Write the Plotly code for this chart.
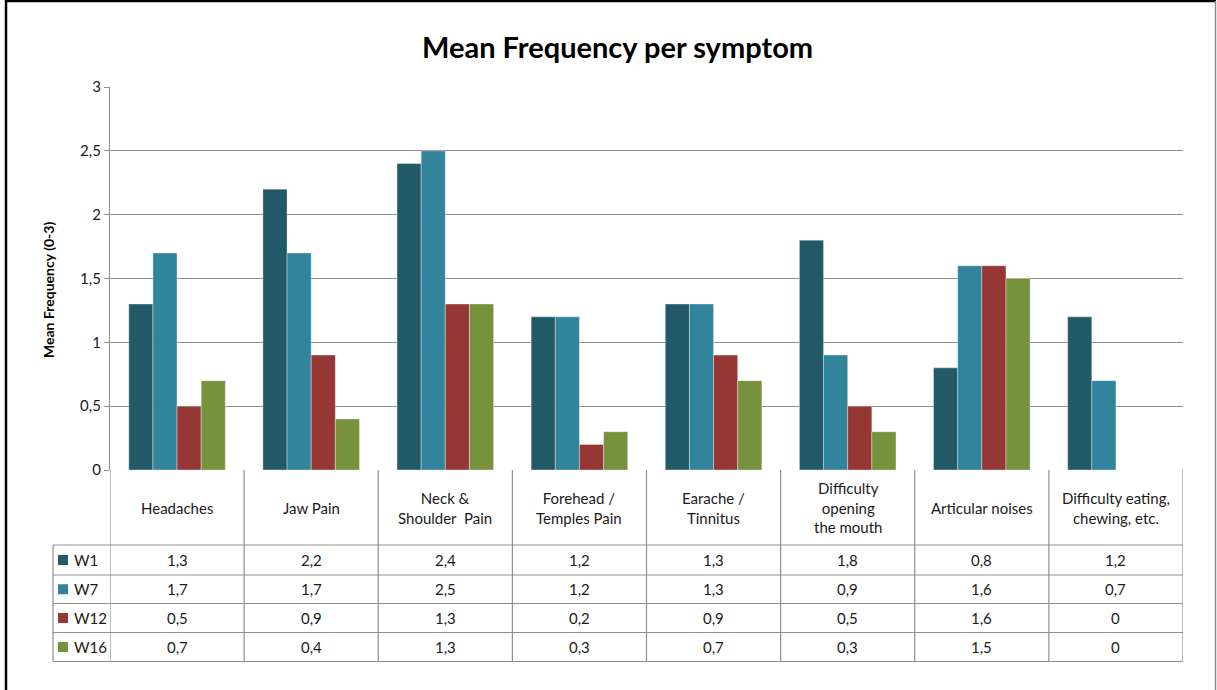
import plotly.graph_objects as go

categories = ["Headaches", "Jaw Pain", "Neck &<br>Shoulder  Pain", "Forehead /<br>Temples Pain",
              "Earache /<br>Tinnitus", "Difficulty<br>opening<br>the mouth", "Articular noises",
              "Difficulty eating,<br>chewing, etc."]
series_names = ["W1", "W7", "W12", "W16"]
w1 = [1.3, 2.2, 2.4, 1.2, 1.3, 1.8, 0.8, 1.2]
w7 = [1.7, 1.7, 2.5, 1.2, 1.3, 0.9, 1.6, 0.7]
w12 = [0.5, 0.9, 1.3, 0.2, 0.9, 0.5, 1.6, 0]
w16 = [0.7, 0.4, 1.3, 0.3, 0.7, 0.3, 1.5, 0]
colors = ["#215967", "#31849B", "#953735", "#76923C"]
yticks = [0, 0.5, 1, 1.5, 2, 2.5, 3]

W, H = 1217, 690
L, R, T, B = 110, 1183, 87, 470
FONT = "Lato"
TXT = "#1a1a1a"

def px_x(p):
    return (p - L) / (R - L)

def px_y(p):
    return (B - p) / (B - T)

xidx = list(range(len(categories)))
fig = go.Figure()
for name, vals, col in zip(series_names, [w1, w7, w12, w16], colors):
    fig.add_trace(go.Bar(x=xidx, y=vals, name=name,
                         marker=dict(color=col, line=dict(width=0.6, color="rgba(255,255,255,0.6)")),
                         showlegend=False))

shapes = []
annotations = []
gray = "#8f8f8f"
row_lines = [545, 575, 603.5, 632.5, 661.5]
leg_left = 53
for i in range(len(categories) + 1):
    shapes.append(dict(type="line", xref="x", yref="paper", x0=i - 0.5, x1=i - 0.5,
                       y0=0, y1=px_y(row_lines[-1]), line=dict(color=gray, width=1.2)))
shapes.append(dict(type="line", xref="paper", yref="paper", x0=px_x(leg_left), x1=px_x(leg_left),
                   y0=px_y(row_lines[0]), y1=px_y(row_lines[-1]), line=dict(color=gray, width=1.2)))
for r in row_lines:
    shapes.append(dict(type="line", xref="paper", yref="paper", x0=px_x(leg_left), x1=1,
                       y0=px_y(r), y1=px_y(r), line=dict(color=gray, width=1.2)))
for i, c in enumerate(categories):
    annotations.append(dict(x=i, y=px_y(507.5), xref="x", yref="paper", text=c, showarrow=False,
                            xanchor="center", yanchor="middle",
                            font=dict(family=FONT, size=15, color=TXT), align="center"))
for r, (name, vals, col) in enumerate(zip(series_names, [w1, w7, w12, w16], colors)):
    ypc = (row_lines[r] + row_lines[r + 1]) / 2
    yc = px_y(ypc)
    for i, v in enumerate(vals):
        txt = ("%g" % v).replace(".", ",")
        annotations.append(dict(x=i, y=yc, xref="x", yref="paper", text=txt, showarrow=False,
                                xanchor="center", yanchor="middle",
                                font=dict(family=FONT, size=15, color=TXT)))
    shapes.append(dict(type="rect", xref="paper", yref="paper", x0=px_x(58), x1=px_x(68),
                       y0=px_y(ypc + 5), y1=px_y(ypc - 5), fillcolor=col, line=dict(width=0)))
    annotations.append(dict(x=px_x(72), y=yc, xref="paper", yref="paper", text=name, showarrow=False,
                            xanchor="left", yanchor="middle", font=dict(family=FONT, size=15, color=TXT)))

annotations.append(dict(x=px_x(48), y=px_y(290), xref="paper", yref="paper", text="<b>Mean Frequency (0-3)</b>",
                        textangle=-90, showarrow=False, xanchor="center", yanchor="middle",
                        font=dict(family=FONT, size=14, color="#000000")))
annotations.append(dict(x=px_x(617), y=px_y(47), xref="paper", yref="paper", text="<b>Mean Frequency per symptom</b>",
                        showarrow=False, xanchor="center", yanchor="middle",
                        font=dict(family=FONT, size=29, color="#000000")))

shapes.append(dict(type="line", xref="paper", yref="paper", x0=px_x(6), x1=px_x(6), y0=px_y(0), y1=px_y(690),
                   line=dict(color="#000000", width=2.5)))
shapes.append(dict(type="line", xref="paper", yref="paper", x0=px_x(5), x1=px_x(1216), y0=px_y(1), y1=px_y(1),
                   line=dict(color="#000000", width=2.5)))
shapes.append(dict(type="line", xref="paper", yref="paper", x0=px_x(1215.5), x1=px_x(1215.5), y0=px_y(1), y1=px_y(690),
                   line=dict(color="#8a8a8a", width=1.5)))

fig.update_layout(
    width=W, height=H,
    margin=dict(l=L, r=W - R, t=T, b=H - B),
    paper_bgcolor="white", plot_bgcolor="white",
    barmode="group", bargap=0.28, bargroupgap=0,
    separators=",.",
    shapes=shapes, annotations=annotations,
    xaxis=dict(range=[-0.5, len(categories) - 0.5], showticklabels=False, showgrid=False, zeroline=False,
               showline=False, ticks=""),
    yaxis=dict(range=[0, 3], tickvals=yticks, showgrid=True, gridcolor=gray, gridwidth=1.2,
               zeroline=False, showline=True, linecolor=gray, linewidth=1.2, ticks="outside", ticklen=5,
               tickcolor=gray, tickfont=dict(family=FONT, size=15, color=TXT)),
    font=dict(family=FONT),
)

fig.write_html("out.html", config={"displayModeBar": False},
               post_script="document.body.style.margin='0';document.body.style.overflow='hidden';")
